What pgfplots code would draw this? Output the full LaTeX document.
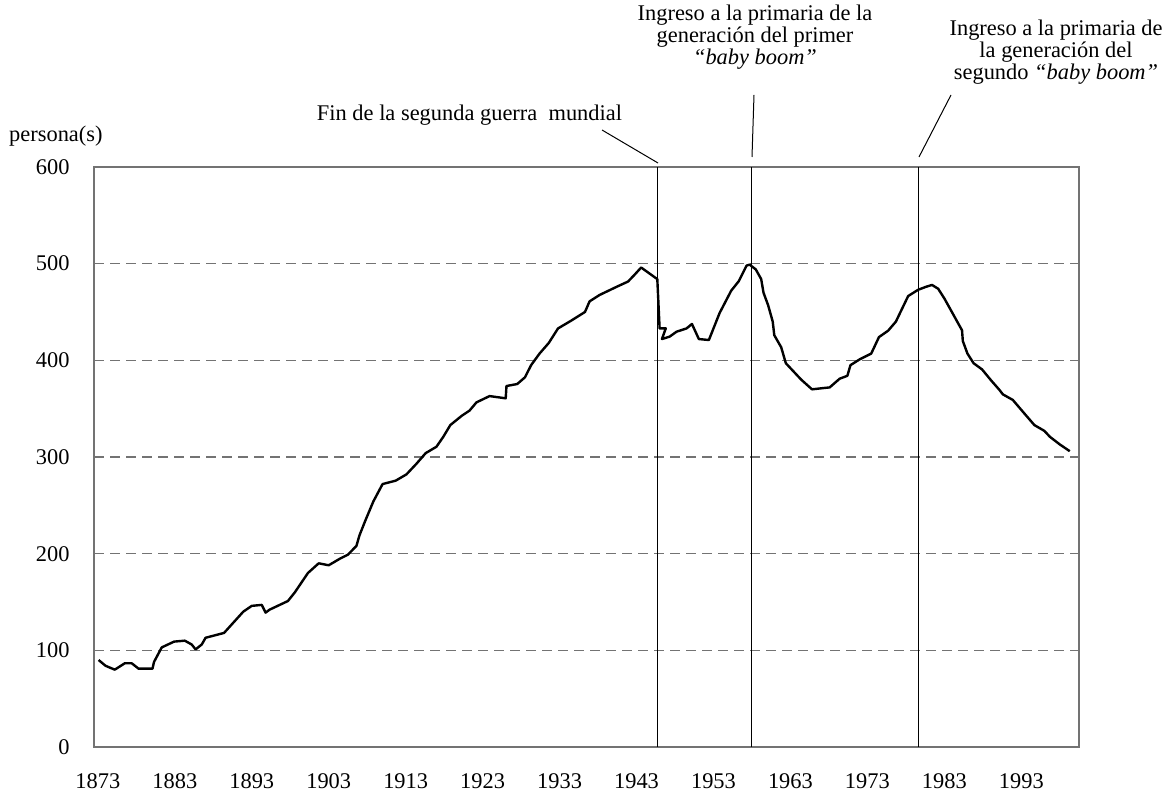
\documentclass[border=0pt]{standalone}
\usepackage{fontspec}
\setmainfont{Liberation Serif}
\usepackage{pgfplots}
\pgfplotsset{compat=1.18}
\begin{document}
\begin{tikzpicture}[x=1bp,y=1bp]
\useasboundingbox (0,0) rectangle (1174,793);
\begin{axis}[
  at={(94bp,46bp)}, anchor=south west,
  width=985bp, height=580bp, scale only axis,
  xmin=1872.5, xmax=2000.5, ymin=0, ymax=600,
  xtick={1873,1883,...,1993}, ytick={0,100,...,600},
  major tick length=0pt,
  axis line style={draw=black!55, line width=1.3bp},
  ymajorgrids,
  grid style={draw=black!55, line width=1.2bp, dash pattern=on 10bp off 6bp},
  /pgf/number format/assume math mode=true,
  /pgf/number format/1000 sep={},
  ticklabel style={font=\fontsize{22.5}{24}\selectfont},
  xticklabel style={yshift=-23bp},
  yticklabel style={xshift=-21bp},
  clip=false,
]
\addplot[black, line width=2.4bp, line join=round] coordinates {
(1873.1,90) (1874,84) (1875.2,80) (1876.5,86.6) (1877.4,86.6) (1878.3,81)
(1880.1,81) (1880.3,88) (1881.3,103) (1882.9,109) (1884.3,110) (1885.2,106)
(1885.7,101) (1886.5,106) (1887,113) (1889.4,118) (1891.9,140) (1893,146)
(1894.3,147) (1894.8,139) (1895.3,142) (1897.7,151) (1898.6,160) (1900.3,180)
(1901.7,190) (1903,188) (1904.5,195) (1905.5,199) (1906.6,208) (1907,219)
(1907.8,235) (1908.8,254) (1910,272) (1911.7,275.5) (1913.1,282) (1914.4,293)
(1915.6,304) (1917,310.6) (1917.9,321) (1918.8,333) (1920.3,342.7) (1921.3,348)
(1922.2,356.5) (1923.9,363) (1926,360.7) (1926.1,373.4) (1927.5,375.5) (1928.5,382.4)
(1929.3,395) (1930.4,407) (1931.6,418) (1932.8,433) (1934.5,441) (1936.3,450)
(1936.9,461) (1938.2,467.6) (1940.4,476) (1941.9,481.5) (1942.8,489) (1943.6,496)
(1945.7,484) (1946,433) (1946.8,433) (1946.3,422) (1947.3,424.5) (1948.2,429.6)
(1949.5,433) (1950.2,437.6) (1951.1,422) (1952.4,421) (1953.8,449) (1955.3,472)
(1956.3,482) (1957.3,498) (1957.7,499) (1958.5,494) (1959.2,484) (1959.5,470)
(1960.1,457) (1960.7,440) (1960.9,426) (1961.8,413.5) (1962.4,397) (1964.4,380)
(1965.8,370) (1968.1,372) (1969.4,381) (1970.4,384) (1970.8,395) (1972,401)
(1973.5,407) (1974.5,424) (1975.7,430.7) (1976.7,440) (1978.3,466.5) (1979.6,473)
(1980.6,476) (1981.4,478) (1982.2,474) (1983,464) (1983.7,454) (1985.3,431)
(1985.4,420) (1986,407) (1986.8,397) (1987.9,390.6) (1989.1,379) (1990.2,369)
(1990.6,364.8) (1991.9,359) (1993.4,345) (1994.7,333) (1996,327) (1996.7,321)
(1998,313) (1999.3,306)
};
\draw[black, line width=1bp] (axis cs:1945.7,0) -- (axis cs:1945.7,600);
\draw[black, line width=1bp] (axis cs:1957.9,0) -- (axis cs:1957.9,600);
\draw[black, line width=1bp] (axis cs:1979.7,0) -- (axis cs:1979.7,600);
\end{axis}
\begin{scope}[every node/.style={inner sep=0pt, font=\fontsize{22.5}{24}\selectfont}]
\node[anchor=base west] at (9,651) {persona(s)};
\node[anchor=base] at (469.5,672) {Fin de la segunda guerra~ mundial};
\node[anchor=base] at (755,772) {Ingreso a la primaria de la};
\node[anchor=base] at (755,750) {generación del primer};
\node[anchor=base] at (755,728) {\textit{“baby boom”}};
\node[anchor=base] at (1056,757) {Ingreso a la primaria de};
\node[anchor=base] at (1056,735) {la generación del};
\node[anchor=base] at (1056,713) {segundo \textit{“baby boom”}};
\end{scope}
\draw[black, line width=1bp] (602,663) -- (658,630);
\draw[black, line width=1bp] (754,698) -- (752,636);
\draw[black, line width=1bp] (951,698) -- (919,636);
\end{tikzpicture}
\end{document}
